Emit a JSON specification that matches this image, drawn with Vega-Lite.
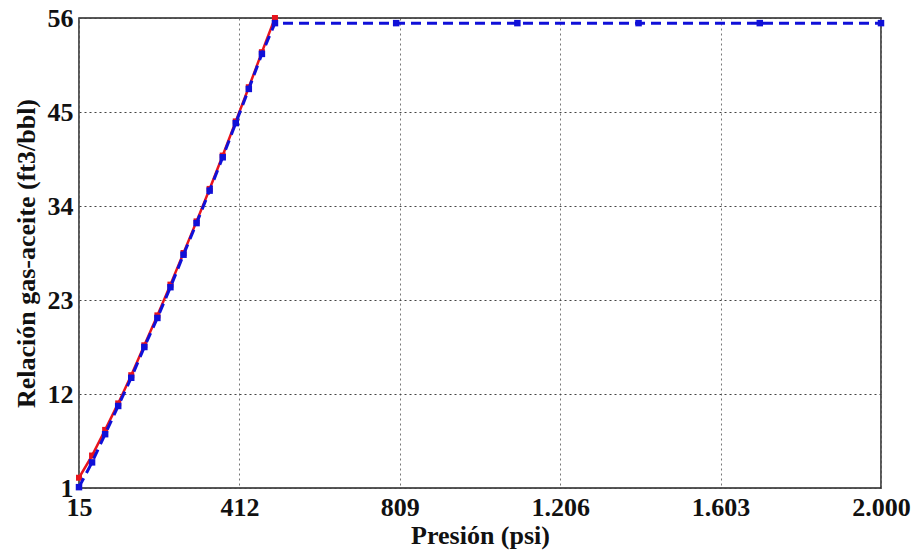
{
  "$schema": "https://vega.github.io/schema/vega-lite/v6.json",
  "autosize": "none",
  "width": 802,
  "height": 470,
  "padding": {"left": 79, "top": 18, "right": 33, "bottom": 64},
  "background": "white",
  "config": {
    "view": {"stroke": "#222", "strokeWidth": 1.5},
    "font": "Liberation Serif"
  },
  "datasets": {
    "red": [
      {"p": 15, "r": 2.2}, {"p": 47.3, "r": 4.8}, {"p": 79.7, "r": 7.8}, {"p": 112, "r": 10.9},
      {"p": 144.3, "r": 14.2}, {"p": 176.7, "r": 17.7}, {"p": 209, "r": 21.2}, {"p": 241.3, "r": 24.8},
      {"p": 273.7, "r": 28.5}, {"p": 306, "r": 32.2}, {"p": 338.3, "r": 36.0}, {"p": 370.7, "r": 39.9},
      {"p": 403, "r": 43.9}, {"p": 435.3, "r": 47.9}, {"p": 467.7, "r": 52.0}, {"p": 500, "r": 56.0}
    ],
    "blue": [
      {"p": 15, "r": 1.1}, {"p": 47.3, "r": 4.0}, {"p": 79.7, "r": 7.3}, {"p": 112, "r": 10.6},
      {"p": 144.3, "r": 13.9}, {"p": 176.7, "r": 17.5}, {"p": 209, "r": 20.9}, {"p": 241.3, "r": 24.5},
      {"p": 273.7, "r": 28.3}, {"p": 306, "r": 32.0}, {"p": 338.3, "r": 35.8}, {"p": 370.7, "r": 39.7},
      {"p": 403, "r": 43.7}, {"p": 435.3, "r": 47.7}, {"p": 467.7, "r": 51.8}, {"p": 500, "r": 55.4},
      {"p": 800, "r": 55.4}, {"p": 1100, "r": 55.4}, {"p": 1400, "r": 55.4}, {"p": 1700, "r": 55.4},
      {"p": 2000, "r": 55.4}
    ]
  },
  "encoding": {
    "x": {
      "field": "p", "type": "quantitative",
      "scale": {"domain": [15, 2000], "nice": false, "zero": false},
      "axis": {
        "title": "Presión (psi)",
        "values": [15, 412, 809, 1206, 1603, 2000],
        "labelExpr": "replace(format(datum.value, ','), ',', '.')",
        "labelFont": "Liberation Serif", "labelFontWeight": "bold", "labelFontSize": 26, "labelColor": "#111",
        "titleFont": "Liberation Serif", "titleFontWeight": "bold", "titleFontSize": 26, "titleColor": "#111",
        "titlePadding": 2, "labelPadding": 6,
        "ticks": false, "domain": false,
        "grid": true, "gridColor": "#777", "gridDash": [2, 3], "gridWidth": 1,
        "labelFlush": false, "labelOverlap": false
      }
    },
    "y": {
      "field": "r", "type": "quantitative",
      "scale": {"domain": [1, 56], "nice": false, "zero": false},
      "axis": {
        "title": "Relación gas-aceite (ft3/bbl)",
        "values": [1, 12, 23, 34, 45, 56],
        "labelFont": "Liberation Serif", "labelFontWeight": "bold", "labelFontSize": 26, "labelColor": "#111",
        "titleFont": "Liberation Serif", "titleFontWeight": "bold", "titleFontSize": 26, "titleColor": "#111",
        "titlePadding": 8, "labelPadding": 6,
        "ticks": false, "domain": false,
        "grid": true, "gridColor": "#444", "gridDash": [2, 3], "gridWidth": 1,
        "labelFlush": false, "labelOverlap": false
      }
    }
  },
  "layer": [
    {
      "data": {"name": "red"},
      "mark": {"type": "line", "color": "#e8141c", "strokeWidth": 2.5},
      "encoding": {}
    },
    {
      "data": {"name": "red"},
      "mark": {"type": "square", "color": "#e8141c", "size": 36, "opacity": 1},
      "encoding": {}
    },
    {
      "data": {"name": "blue"},
      "mark": {"type": "line", "color": "#1010d8", "strokeWidth": 3, "strokeDash": [10, 6]},
      "encoding": {}
    },
    {
      "data": {"name": "blue"},
      "mark": {"type": "square", "color": "#1010d8", "size": 42, "opacity": 1},
      "encoding": {}
    }
  ]
}
